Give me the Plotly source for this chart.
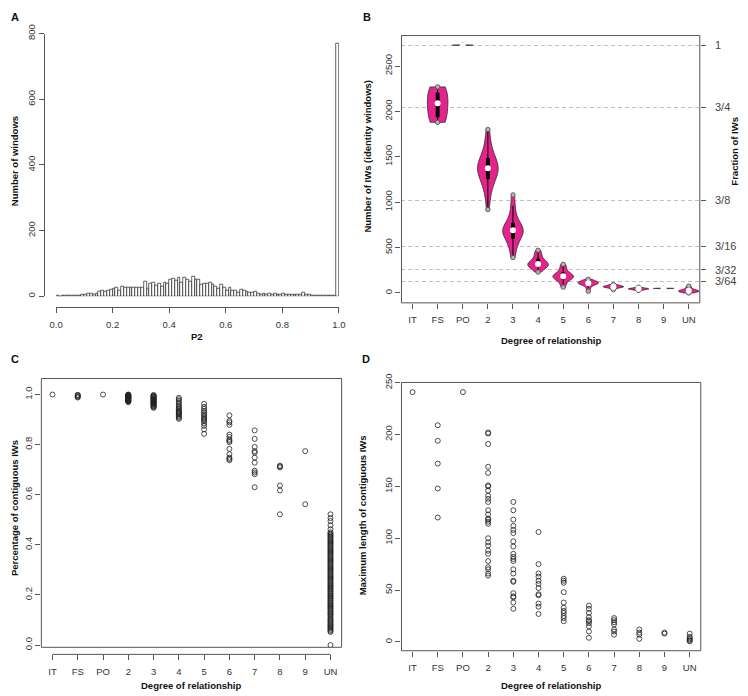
import plotly.graph_objects as go
import numpy as np

W, H = 748, 696
def px_x(p): return p / W
def px_y(p): return 1 - p / H

FONT = 'Liberation Sans, Arial, sans-serif'
LINE = '#555555'
TICKC = '#333333'

# ---------------- Panel A data ----------------
hist_bin_start = [i / 100 for i in range(100)]
hist_counts = [1, 0, 1, 1, 2, 2, 2, 3, 3, 4,
               5, 7, 8, 6, 8, 15, 16, 14, 16, 20,
               22, 25, 18, 30, 27, 25, 28, 25, 28, 27,
               25, 45, 22, 38, 43, 32, 38, 30, 43, 40,
               50, 53, 48, 57, 43, 57, 52, 45, 60, 52,
               52, 37, 38, 38, 42, 35, 30, 22, 35, 25,
               18, 25, 18, 17, 12, 20, 18, 15, 10, 12,
               15, 8, 6, 8, 5, 8, 5, 9, 5, 4,
               8, 5, 4, 5, 6, 5, 4, 12, 5, 4,
               3, 2, 3, 2, 2, 3, 2, 2, 2, 770]
hist_xticks = [0.0, 0.2, 0.4, 0.6, 0.8, 1.0]
hist_yticks = [0, 200, 400, 600, 800]

# ---------------- Categories ----------------
cats = ['IT', 'FS', 'PO', '2', '3', '4', '5', '6', '7', '8', '9', 'UN']

# ---------------- Panel B data (IW counts per pair) ----------------
total_iw = 2730
frac_vals = [1, 3/4, 3/8, 3/16, 3/32, 3/64]
frac_labels = ['1', '3/4', '3/8', '3/16', '3/32', '3/64']
iw_it = []
iw_fs = [1880, 1960, 2090, 2180, 2270]
iw_po = [2728, 2730, 2732]
iw_2 = [920, 1050, 1120, 1180, 1220, 1250, 1280, 1300, 1320, 1340, 1360, 1375,
        1385, 1400, 1420, 1440, 1460, 1490, 1520, 1560, 1620, 1700, 1800]
iw_3 = [390, 480, 540, 580, 610, 640, 660, 680, 690, 700, 715, 730, 760, 800,
        870, 960, 1080]
iw_4 = [230, 260, 280, 295, 300, 305, 315, 320, 330, 340, 355, 380, 410, 440, 470]
iw_5 = [65, 110, 140, 160, 170, 178, 183, 190, 200, 215, 240, 280, 315]
iw_6 = [20, 55, 80, 95, 100, 105, 110, 115, 120, 125, 135, 150]
iw_7 = [38, 55, 62, 66, 69, 72, 76, 82, 92]
iw_8 = [28, 38, 42, 45, 48, 52, 62]
iw_9 = [48, 50, 52]
iw_un = [0, 5, 10, 14, 18, 20, 22, 25, 28, 32, 38, 48, 62, 75]
iw_groups = [iw_it, iw_fs, iw_po, iw_2, iw_3, iw_4, iw_5, iw_6, iw_7, iw_8, iw_9, iw_un]

# ---------------- Panel C data (fraction of contiguous IWs) ----------------
pct_it = [1.0]
pct_fs = [0.988, 0.991, 0.994, 0.997, 0.999]
pct_po = [1.0]
pct_2 = [0.970, 0.972, 0.974, 0.975, 0.977, 0.978, 0.979, 0.981, 0.982, 0.983,
         0.984, 0.985, 0.986, 0.987, 0.988, 0.989, 0.990, 0.991, 0.992, 0.993,
         0.994, 0.995, 0.996, 0.997, 0.998, 0.999, 1.0]
pct_3 = [0.947, 0.950, 0.953, 0.955, 0.958, 0.960, 0.962, 0.964, 0.966, 0.968,
         0.970, 0.972, 0.974, 0.976, 0.978, 0.980, 0.982, 0.984, 0.986, 0.988,
         0.990, 0.992, 0.994, 0.996, 0.998]
pct_4 = [0.903, 0.907, 0.912, 0.916, 0.921, 0.925, 0.928, 0.931, 0.935, 0.94,
         0.945, 0.95, 0.955, 0.962, 0.968, 0.975, 0.981, 0.987]
pct_5 = [0.843, 0.861, 0.875, 0.885, 0.893, 0.898, 0.903, 0.908, 0.915, 0.92,
         0.928, 0.935, 0.943, 0.951, 0.963]
pct_6 = [0.738, 0.743, 0.748, 0.762, 0.783, 0.81, 0.815, 0.82, 0.831, 0.84,
         0.879, 0.889, 0.895, 0.917]
pct_7 = [0.630, 0.682, 0.689, 0.696, 0.728, 0.748, 0.768, 0.774, 0.791, 0.823, 0.857]
pct_8 = [0.522, 0.617, 0.637, 0.709, 0.713, 0.716]
pct_9 = [0.562, 0.774]
pct_un = [0.0, 0.052, 0.057, 0.061, 0.066, 0.07, 0.075, 0.079, 0.083, 0.088,
          0.092, 0.097, 0.101, 0.106, 0.112, 0.118, 0.123, 0.127, 0.131, 0.136,
          0.14, 0.145, 0.149, 0.154, 0.158, 0.162, 0.167, 0.171, 0.176, 0.18,
          0.185, 0.189, 0.194, 0.198, 0.203, 0.207, 0.212, 0.216, 0.221, 0.225,
          0.23, 0.234, 0.238, 0.243, 0.247, 0.252, 0.256, 0.261, 0.265, 0.27,
          0.274, 0.279, 0.283, 0.288, 0.292, 0.297, 0.301, 0.306, 0.31, 0.315,
          0.319, 0.324, 0.328, 0.333, 0.337, 0.342, 0.346, 0.351, 0.355, 0.36,
          0.364, 0.369, 0.373, 0.378, 0.382, 0.387, 0.391, 0.396, 0.4, 0.405,
          0.409, 0.414, 0.418, 0.423, 0.427, 0.432, 0.436, 0.441, 0.445, 0.45,
          0.462, 0.478, 0.495, 0.507, 0.522]
pct_groups = [pct_it, pct_fs, pct_po, pct_2, pct_3, pct_4, pct_5, pct_6, pct_7,
              pct_8, pct_9, pct_un]
pct_ticks = [0.0, 0.2, 0.4, 0.6, 0.8, 1.0]

# ---------------- Panel D data (max length of contiguous IWs) ----------------
maxlen_it = [241]
maxlen_fs = [209, 194, 172, 148, 120]
maxlen_po = [241]
maxlen_2 = [202, 201, 191, 169, 163, 151, 150, 146, 141, 138, 135, 127, 123, 119,
            118, 116, 114, 100, 96, 93, 88, 85, 78, 72, 70, 66, 64]
maxlen_3 = [135, 127, 118, 112, 108, 105, 97, 92, 85, 82, 80, 78, 70, 66, 59, 58,
            47, 44, 43, 38, 32]
maxlen_4 = [106, 75, 66, 63, 59, 56, 52, 46, 45, 37, 34, 27]
maxlen_5 = [61, 59, 57, 48, 38, 33, 30, 28, 25, 23, 20]
maxlen_6 = [35, 32, 28, 24, 21, 20, 18, 15, 10, 4]
maxlen_7 = [23, 21, 19, 17, 12, 10, 7]
maxlen_8 = [12, 9, 7, 3]
maxlen_9 = [9, 8]
maxlen_un = [8, 5, 3.5, 2.5, 1.3, 0.6]
maxlen_groups = [maxlen_it, maxlen_fs, maxlen_po, maxlen_2, maxlen_3, maxlen_4,
                 maxlen_5, maxlen_6, maxlen_7, maxlen_8, maxlen_9, maxlen_un]
maxlen_ticks = [0, 50, 100, 150, 200, 250]

positions = list(range(1, len(cats) + 1))

fig = go.Figure()

# ---- Panel A: histogram ----
fig.add_trace(go.Bar(
    x=[s + 0.005 for s in hist_bin_start], y=hist_counts, width=0.01,
    marker=dict(color='white', line=dict(color='#222222', width=0.7)),
    xaxis='x', yaxis='y', hoverinfo='skip'))

# ---- Panel B: violins ----
VCOL = '#E5238C'
med_x, med_y, end_x, end_y = [], [], [], []
for pos, s in zip(positions, iw_groups):
    if not s:
        continue
    fig.add_trace(go.Violin(
        x=[pos] * len(s), y=s, xaxis='x2', yaxis='y2', width=0.82,
        scalemode='width', spanmode='hard', points=False,
        fillcolor=VCOL, opacity=1, line=dict(color='#3a2a33', width=0.8),
        box=dict(visible=True, width=0.14, fillcolor='black',
                 line=dict(color='black', width=1)),
        meanline=dict(visible=False), hoverinfo='skip'))
    med_x.append(pos); med_y.append(float(np.median(s)))
    end_x += [pos, pos]; end_y += [min(s), max(s)]

fig.add_trace(go.Scatter(x=end_x, y=end_y, mode='markers', xaxis='x2', yaxis='y2',
                         marker=dict(color='#b5b5b5', size=4.5,
                                     line=dict(color='#444444', width=0.8)),
                         hoverinfo='skip'))
fig.add_trace(go.Scatter(x=med_x, y=med_y, mode='markers', xaxis='x2', yaxis='y2',
                         marker=dict(color='white', size=6, line=dict(width=0)),
                         hoverinfo='skip'))
# invisible trace so the right-hand fraction axis is drawn
fig.add_trace(go.Scatter(x=[positions[0]] * len(frac_vals),
                         y=[total_iw * f for f in frac_vals], mode='markers',
                         xaxis='x2', yaxis='y3', marker=dict(opacity=0),
                         hoverinfo='skip'))

# ---- Panel C & D: scatter ----
PT = dict(symbol='circle-open', size=5, color='#222222', line=dict(width=0.8))
for pos, vals in zip(positions, pct_groups):
    fig.add_trace(go.Scatter(x=[pos] * len(vals), y=vals, mode='markers',
                             xaxis='x3', yaxis='y4', marker=PT, hoverinfo='skip'))
for pos, vals in zip(positions, maxlen_groups):
    fig.add_trace(go.Scatter(x=[pos] * len(vals), y=vals, mode='markers',
                             xaxis='x4', yaxis='y5', marker=PT, hoverinfo='skip'))

TF = dict(family=FONT, size=9.5, color=TICKC)
base = dict(showgrid=False, zeroline=False, ticks='outside', ticklen=5,
            tickwidth=1, tickcolor=LINE, tickfont=TF, fixedrange=True)

xr = [0.56, 12.44]
fig.update_layout(
    width=W, height=H, margin=dict(l=0, r=0, t=0, b=0),
    paper_bgcolor='white', plot_bgcolor='white', showlegend=False,
    violinmode='overlay', bargap=0,
    xaxis=dict(**base, domain=[px_x(50), px_x(338.3)], range=[0, 1], anchor='free',
               position=px_y(303), showline=True, linecolor=LINE,
               tickvals=hist_xticks, ticktext=[f'{v:.1f}' for v in hist_xticks],
               ticklabelstandoff=4),
    yaxis=dict(**base, domain=[px_y(292.3), px_y(25)], range=[0, 800], anchor='free',
               position=px_x(38), showline=True, linecolor=LINE,
               tickvals=hist_yticks, tickangle=-90),
    xaxis2=dict(**base, domain=[px_x(402), px_x(706)], range=xr, anchor='y2',
                tickvals=positions, ticktext=cats, showline=False, ticklabelstandoff=3),
    yaxis2=dict(**base, domain=[px_y(299), px_y(27)], range=[-109, 2836], anchor='x2',
                tickvals=[0, 500, 1000, 1500, 2000, 2500], tickangle=-90, showline=False),
    yaxis3=dict(**base, overlaying='y2', side='right', anchor='x2', range=[-109, 2836],
                tickvals=[total_iw * f for f in frac_vals], ticktext=frac_labels,
                showline=False),
    xaxis3=dict(**base, domain=[px_x(35), px_x(341)], range=xr, anchor='free',
                position=px_y(656.7), tickvals=positions, ticktext=cats,
                showline=False, ticklabelstandoff=3),
    yaxis4=dict(**base, domain=[px_y(649.5), px_y(376)], range=[-0.009, 1.064],
                anchor='x3', tickvals=pct_ticks,
                ticktext=[f'{v:.1f}' for v in pct_ticks], tickangle=-90, showline=False),
    xaxis4=dict(**base, domain=[px_x(402), px_x(707)], range=xr, anchor='y5',
                tickvals=positions, ticktext=cats, showline=False, ticklabelstandoff=3),
    yaxis5=dict(**base, domain=[px_y(653), px_y(380)], range=[-8.5, 250.3],
                anchor='x4', tickvals=maxlen_ticks, tickangle=-90, showline=False),
)
fig.update_layout(yaxis3=dict(showgrid=True, gridcolor='#c0c0c0', griddash='4px,3px',
                              gridwidth=1, ticklabelstandoff=7,
                              tickfont=dict(family=FONT, size=11, color='#444444')))

shapes = []
for xr_, yr_ in [('x2', 'y2'), ('x3', 'y4'), ('x4', 'y5')]:
    shapes.append(dict(type='rect', xref=f'{xr_} domain', yref=f'{yr_} domain',
                       x0=0, x1=1, y0=0, y1=1, line=dict(color=LINE, width=1),
                       layer='above'))
shapes.append(dict(type='line', xref='x3', yref='paper', x0=positions[0],
                   x1=positions[-1], y0=px_y(656.7), y1=px_y(656.7),
                   line=dict(color=LINE, width=1)))
fig.update_layout(shapes=shapes)

def ann(text, x, y, angle=0, size=9.5, bold=True):
    return dict(text=f'<b>{text}</b>' if bold else text, x=px_x(x), y=px_y(y),
                xref='paper', yref='paper', showarrow=False, textangle=angle,
                font=dict(family=FONT, size=size, color='#111111'),
                xanchor='center', yanchor='middle')

annotations = [
    ann('A', 8, 8, size=11), ann('B', 367, 8, size=11),
    ann('C', 8, 356, size=11), ann('D', 366, 356, size=11),
    ann('P2', 194, 333),
    ann('Number of windows', 7, 155, -90),
    ann('Degree of relationship', 554, 337),
    ann('Number of IWs (identity windows)', 367, 150, -90),
    ann('Fraction of IWs', 741, 145, -90),
    ann('Degree of relationship', 188, 688),
    ann('Percentage of contiguous IWs', 7, 508, -90),
    ann('Degree of relationship', 554, 688),
    ann('Maximum length of contiguous IWs', 362, 515, -90),
]
fig.update_layout(annotations=annotations)

fig.write_html('out.html', config={'displayModeBar': False},
               post_script="document.body.style.margin='0';document.body.style.overflow='hidden';")
